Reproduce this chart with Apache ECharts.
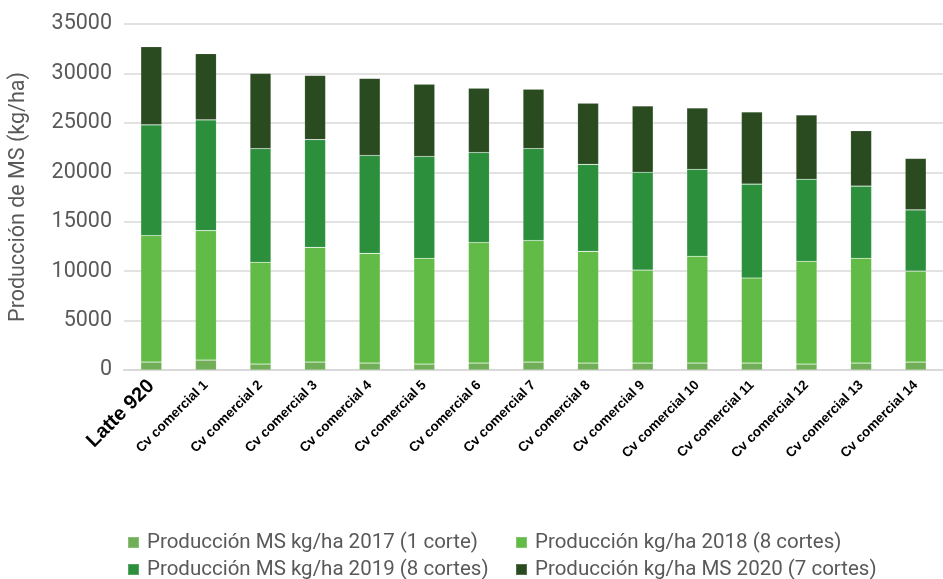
<!DOCTYPE html>
<html>
<head>
<meta charset="utf-8">
<script src="https://cdn.jsdelivr.net/npm/echarts@6/dist/echarts.min.js"></script>
<style>
html,body{margin:0;padding:0;background:#fff;}
#chart{width:943px;height:579px;}
</style>
</head>
<body>
<div id="chart"></div>
<script>
const categories = ['Latte 920','Cv comercial 1','Cv comercial 2','Cv comercial 3','Cv comercial 4','Cv comercial 5','Cv comercial 6','Cv comercial 7','Cv comercial 8','Cv comercial 9','Cv comercial 10','Cv comercial 11','Cv comercial 12','Cv comercial 13','Cv comercial 14'];
const seriesNames = ['Producción MS kg/ha 2017 (1 corte)','Producción kg/ha 2018 (8 cortes)','Producción MS kg/ha 2019 (8 cortes)','Producción kg/ha MS 2020 (7 cortes)'];
const prod2017 = [800,1000,600,800,700,600,700,800,700,700,700,700,600,700,800];
const prod2018 = [12800,13100,10300,11600,11100,10700,12200,12300,11300,9400,10800,8600,10400,10600,9200];
const prod2019 = [11200,11200,11500,10900,9900,10300,9100,9300,8800,9900,8800,9500,8300,7300,6200];
const prod2020 = [7900,6700,7600,6500,7800,7300,6500,6000,6200,6700,6200,7300,6500,5600,5200];
const yTicks = [0,5000,10000,15000,20000,25000,30000,35000];

const colors = ['#70ae58','#62bb46','#2b8f3c','#2a4a20'];
const dataSets = [prod2017, prod2018, prod2019, prod2020];

const chart = echarts.init(document.getElementById('chart'), null, {renderer:'canvas'});
const series = dataSets.map((d,i)=>({
  name: seriesNames[i],
  type: 'bar',
  stack: 'total',
  data: d,
  barWidth: 21,
  itemStyle: {color: colors[i], borderColor: 'rgba(255,255,255,0.2)', borderWidth: 0.6},
  emphasis: {disabled: true}
}));

const legendText = {color:'#595959', fontSize:20.5, fontFamily:'Roboto, "Liberation Sans", sans-serif', padding:[0,0,0,3]};
const legendPos = [[127,532],[515,532],[127,559],[515,559]];
const legends = seriesNames.map((n,i)=>({
  data:[n], left:legendPos[i][0], top:legendPos[i][1], itemWidth:11, itemHeight:11, icon:'rect', itemGap:0, padding:0, textStyle:legendText
}));

chart.setOption({
  animation: false,
  color: colors,
  grid: {left:121, right:0, top:24, bottom:209, containLabel:false},
  legend: legends,
  xAxis: {
    type:'category',
    data: categories,
    axisLine:{show:true, lineStyle:{color:'#d9d9d9', width:2}},
    axisTick:{show:false},
    axisLabel:{
      interval:0, rotate:45, margin:13, color:'#000',
      formatter:(v,i)=> i===0 ? '{big|'+v+'}' : '{small|'+v+'}',
      rich:{
        big:{fontSize:20, fontWeight:'bold', fontFamily:'"Liberation Sans", Arial, sans-serif', color:'#000'},
        small:{fontSize:13.5, fontWeight:'bold', fontFamily:'"Liberation Sans", Arial, sans-serif', color:'#000'}
      }
    }
  },
  yAxis: {
    type:'value',
    min: yTicks[0], max: yTicks[yTicks.length-1], interval: yTicks[1]-yTicks[0],
    name:'Producción de MS (kg/ha)',
    nameLocation:'middle', nameGap:94,
    nameTextStyle:{color:'#595959', fontSize:21.5, fontFamily:'Roboto, sans-serif'},
    axisLine:{show:false}, axisTick:{show:false},
    axisLabel:{color:'#595959', fontSize:21.5, margin:12, fontFamily:'Roboto, sans-serif', formatter:(v)=>String(v)},
    splitLine:{lineStyle:{color:'#d9d9d9', width:1.5}}
  },
  series: series
});
</script>
</body>
</html>
